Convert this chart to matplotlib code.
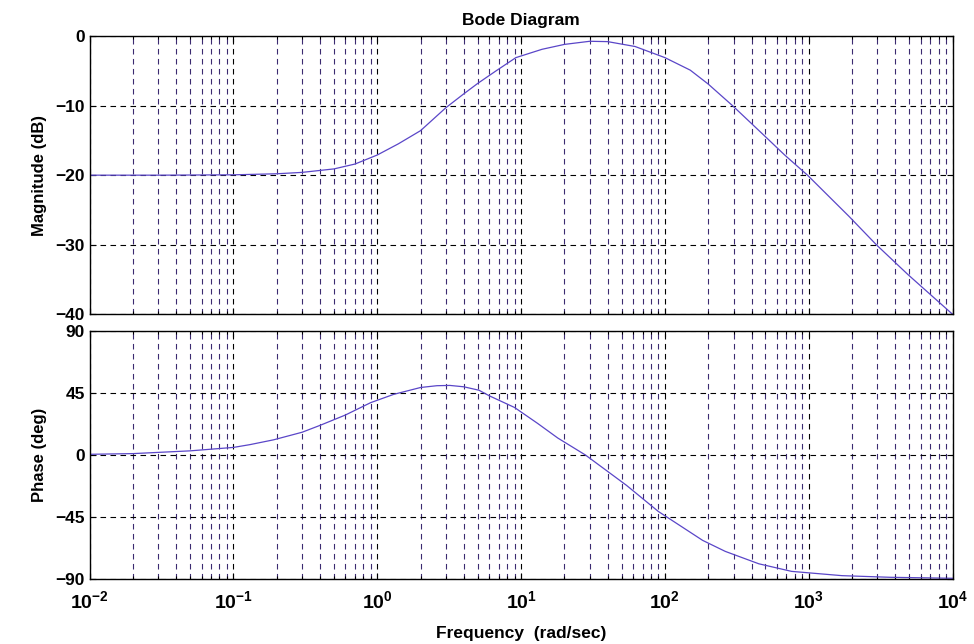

import matplotlib

matplotlib.use("Agg")
import matplotlib.pyplot as plt
from matplotlib.ticker import FixedLocator, LogLocator, NullFormatter

# values
mag_freq = [0.01, 0.03, 0.1, 0.2, 0.3, 0.5, 0.7, 1.0, 1.4, 2.0, 3.0, 4.0, 5.0, 6.7, 9.2, 14,
            20, 30, 40, 62, 100, 150, 200, 295, 490, 680, 980, 1900, 2950, 4900, 10000]
mag_db = [-20, -20, -19.95, -19.8, -19.6, -19.1, -18.4, -17.1, -15.5, -13.6, -10.3, -8.3, -6.8,
          -5.0, -3.1, -1.9, -1.2, -0.75, -0.8, -1.5, -3.1, -4.9, -6.9, -10.0, -14.3, -17.1,
          -20.0, -25.9, -30.0, -34.3, -40]

phase_freq = [0.01, 0.02, 0.05, 0.1, 0.13, 0.19, 0.3, 0.4, 0.6, 0.9, 1.3, 2.0, 2.6, 3.2, 4.0,
              5.1, 6.0, 9.0, 13, 18, 28, 54, 90, 183, 263, 450, 760, 1700, 3700, 10000]
phase_deg = [0.5, 1, 3, 5.5, 7.5, 11, 16.5, 21.5, 29, 38, 44, 49, 50.3, 50.5, 49.5, 47, 43,
             34.5, 23, 12.3, 0, -22, -41, -62, -70, -79, -84.5, -87.6, -88.8, -89.5]

mag_ticks = [-40, -30, -20, -10, 0]
phase_ticks = [-90, -45, 0, 45, 90]
freq_ticks = [1e-2, 1e-1, 1e0, 1e1, 1e2, 1e3, 1e4]
freq_labels = [r"$\mathbf{10^{-2}}$", r"$\mathbf{10^{-1}}$", r"$\mathbf{10^{0}}$", r"$\mathbf{10^{1}}$",
               r"$\mathbf{10^{2}}$", r"$\mathbf{10^{3}}$", r"$\mathbf{10^{4}}$"]

plt.rcParams["font.family"] = ["Liberation Sans", "DejaVu Sans"]
plt.rcParams["mathtext.fontset"] = "custom"
plt.rcParams["mathtext.rm"] = "Liberation Sans"
plt.rcParams["mathtext.bf"] = "Liberation Sans:bold"

LINE_COLOR = "#5a46c8"


def _style_axes(ax, yticks):
    ax.set_xscale("log")
    ax.set_xlim(1e-2, 1e4)
    ax.set_ylim(yticks[0], yticks[-1])
    ax.yaxis.set_major_locator(FixedLocator(yticks))
    ax.xaxis.set_major_locator(FixedLocator(freq_ticks))
    ax.xaxis.set_minor_locator(LogLocator(base=10, subs=range(2, 10), numticks=20))
    ax.xaxis.set_minor_formatter(NullFormatter())
    ax.grid(True, which="major", color="black", linestyle=(0, (5, 4)), linewidth=0.8)
    ax.grid(True, which="minor", axis="x", color="#3b2a70", linestyle=(0, (5, 4)), linewidth=0.8)
    ax.tick_params(which="both", direction="in", top=True, right=True, length=4, width=0.8)
    ax.tick_params(which="minor", length=2.5)
    ax.tick_params(axis="both", labelsize=12.5)
    for label in ax.get_yticklabels():
        label.set_fontweight("bold")
    for spine in ax.spines.values():
        spine.set_linewidth(1.0)


fig = plt.figure(figsize=(9.74, 6.44), dpi=100)
ax_mag = fig.add_axes([0.092, 0.512, 0.886, 0.432])
ax_ph = fig.add_axes([0.092, 0.101, 0.886, 0.385])

ax_mag.plot(mag_freq, mag_db, color=LINE_COLOR, linewidth=0.9)
_style_axes(ax_mag, mag_ticks)
ax_mag.set_xticklabels([])
ax_mag.set_ylabel("Magnitude (dB)", fontsize=12, fontweight="bold", labelpad=6)
ax_mag.set_title("Bode Diagram", fontsize=12.5, fontweight="bold", pad=8)

ax_ph.plot(phase_freq, phase_deg, color=LINE_COLOR, linewidth=0.9)
_style_axes(ax_ph, phase_ticks)
ax_ph.set_xticklabels(freq_labels, fontsize=14)
ax_ph.tick_params(axis="x", pad=8)
ax_ph.set_ylabel("Phase (deg)", fontsize=12, fontweight="bold", labelpad=6)
ax_ph.set_xlabel("Frequency  (rad/sec)", fontsize=12.5, fontweight="bold", labelpad=10)

fig.savefig("out.png", dpi=100)
